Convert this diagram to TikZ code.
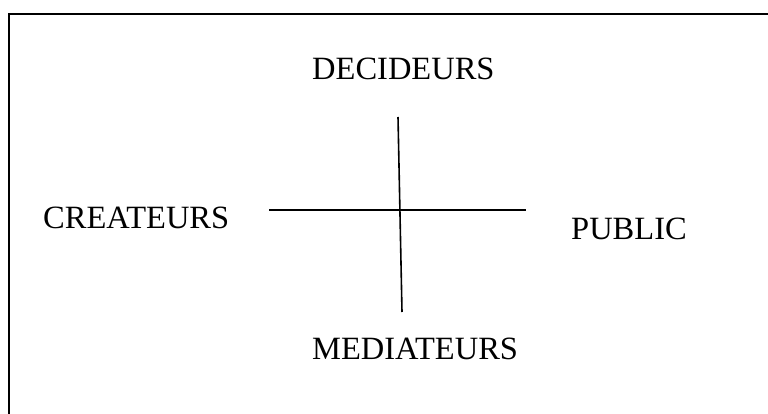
\documentclass[tikz,border=0pt]{standalone}
\usepackage{fontspec}
\setmainfont{Liberation Serif}
\begin{document}
\begin{tikzpicture}[x=1pt,y=-1pt,
  lbl/.style={inner sep=0pt,font=\fontsize{32.5}{38}\selectfont},
  axis/.style={line width=1.6pt,black},
  frame/.style={line width=2pt,black}]
\useasboundingbox (0,0) rectangle (768,414);
\draw[frame] (9,430) -- (9,14) -- (780,14);
\node[lbl,anchor=base west] (dec) at (312,80) {DECIDEURS};
\node[lbl,anchor=base west] (cre) at (43,229) {CREATEURS};
\node[lbl,anchor=base west] (pub) at (571,239) {PUBLIC};
\node[lbl,anchor=base west] (med) at (312,359) {MEDIATEURS};
\coordinate (hl) at (269,210);
\coordinate (hr) at (526,210);
\coordinate (vt) at (398,117);
\coordinate (vb) at (402,312);
\draw[axis] (hl) -- (hr);
\draw[axis] (vt) -- (vb);
\end{tikzpicture}
\end{document}
